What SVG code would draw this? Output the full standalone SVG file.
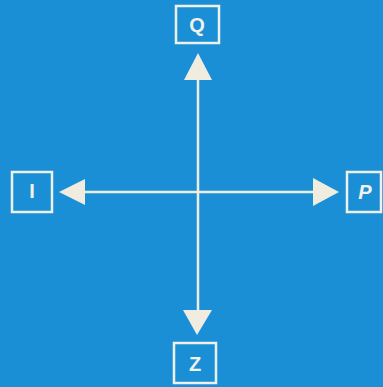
<svg xmlns="http://www.w3.org/2000/svg" width="383" height="387" viewBox="0 0 383 387">
<style>
.box{fill:none;stroke:#eef0ea;stroke-width:2.5}
.lbl{fill:#f2f2ec;font-family:"Liberation Sans",Arial,sans-serif;font-weight:bold;font-size:20px;text-anchor:middle;dominant-baseline:central}
.ln{stroke:#f0eee4;stroke-width:2.5;fill:none}
.ah{fill:#f0ece0}
</style>
<rect width="383" height="387" fill="#1a8fd6"/>
<g id="connectors">
<line class="ln" x1="198" y1="78" x2="198" y2="312"/>
<line class="ln" x1="83" y1="192" x2="315" y2="192"/>
<polygon class="ah" points="198,53 184,80 212,80"/>
<polygon class="ah" points="59,192 85,179 85,205"/>
<polygon class="ah" points="339,192 313,178 313,206"/>
<polygon class="ah" points="197,335 183,310 212,310"/>
</g>
<g id="Q"><rect class="box" x="176" y="6" width="43" height="37"/><text class="lbl" x="197" y="25">Q</text></g>
<g id="I"><rect class="box" x="12" y="172" width="40" height="40"/><text class="lbl" x="32" y="191">I</text></g>
<g id="P"><rect class="box" x="347" y="172" width="34" height="40"/><text class="lbl" x="365" y="192" font-style="italic">P</text></g>
<g id="Z"><rect class="box" x="174" y="343" width="42" height="40"/><text class="lbl" x="195" y="364">Z</text></g>
</svg>
